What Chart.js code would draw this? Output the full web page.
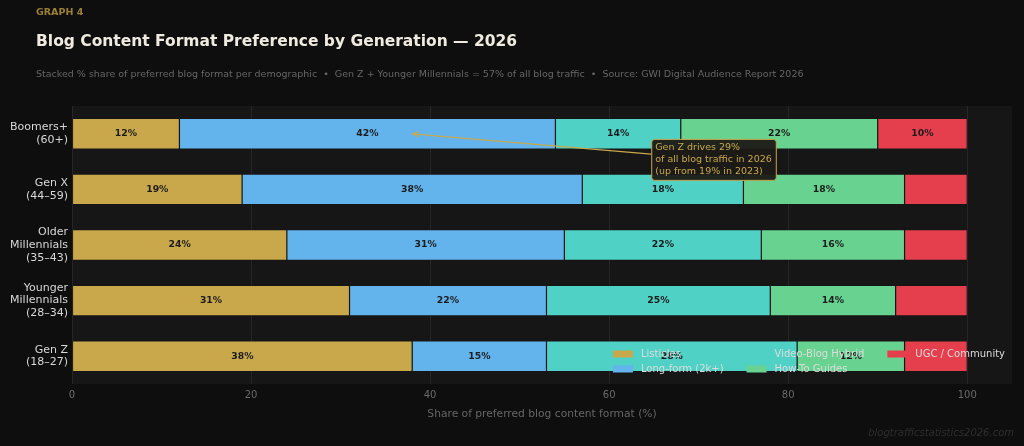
<!DOCTYPE html>
<html>
<head>
<meta charset="utf-8">
<script src="https://cdn.jsdelivr.net/npm/chart.js@4/dist/chart.umd.min.js"></script>
<style>
  html, body { margin: 0; padding: 0; background: #0e0e0e; }
  #wrap { width: 1024px; height: 446px; position: relative; }
</style>
</head>
<body>
<div id="wrap"><canvas id="chart" width="1024" height="446"></canvas></div>
<script>
/* ── Données ─────────────────────────────────────────────── */
const GENERATIONS = [
    ['Boomers+', '(60+)'],
    ['Gen X', '(44–59)'],
    ['Older', 'Millennials', '(35–43)'],
    ['Younger', 'Millennials', '(28–34)'],
    ['Gen Z', '(18–27)'],
];
const FORMATS = ['Listicles', 'Long-form (2k+)', 'Video-Blog Hybrid', 'How-To Guides', 'UGC / Community'];
const LISTICLES = [12, 19, 24, 31, 38];
const LONG_FORM = [42, 38, 31, 22, 15];
const VIDEO_BLOG = [14, 18, 22, 25, 28];
const HOW_TO = [22, 18, 16, 14, 12];
const UGC = [10, 7, 7, 8, 7];
const X_TICKS = [0, 20, 40, 60, 80, 100];

const NOTE_LINES = ['Gen Z drives 29%', 'of all blog traffic in 2026', '(up from 19% in 2023)'];
const NOTE_TARGET = { x: 38, y: 0 };
const NOTE_AT = { x: 64.7, y: 0.46 };

/* ── Charte ──────────────────────────────────────────────── */
const COLORS = ['#c9a84c', '#63b3ed', '#4fd1c5', '#68d391', '#e53e4d'];
const GOLD = '#c9a84c';
const FONT = '"DejaVu Sans", "Liberation Sans", sans-serif';
const LABEL_MIN = 10;

const SERIES = [LISTICLES, LONG_FORM, VIDEO_BLOG, HOW_TO, UGC];

/* ── Plugins maison ──────────────────────────────────────── */
const background = {
    id: 'background',
    beforeDraw(chart) {
        const { ctx, chartArea: a } = chart;
        ctx.save();
        ctx.fillStyle = '#0e0e0e';
        ctx.fillRect(0, 0, chart.width, chart.height);
        ctx.fillStyle = '#161616';
        ctx.fillRect(a.left, a.top, a.right - a.left, a.bottom - a.top);

        ctx.textBaseline = 'middle';
        ctx.textAlign = 'left';
        ctx.fillStyle = '#9c8035';
        ctx.font = `bold 9.5px ${FONT}`;
        ctx.fillText('GRAPH 4', 36, 13);
        ctx.fillStyle = '#f0ebe0';
        ctx.font = `bold 15.5px ${FONT}`;
        ctx.fillText('Blog Content Format Preference by Generation — 2026', 36, 42);
        ctx.fillStyle = '#666';
        ctx.font = `9.5px ${FONT}`;
        ctx.fillText('Stacked % share of preferred blog format per demographic  •  Gen Z + Younger Millennials = 57% of all blog traffic  •  Source: GWI Digital Audience Report 2026', 36, 75);

        ctx.textAlign = 'right';
        ctx.fillStyle = '#2e2e2e';
        ctx.font = `italic 10px ${FONT}`;
        ctx.fillText('blogtrafficstatistics2026.com', 1014, 433);
        ctx.restore();
    },
};

const segmentLabels = {
    id: 'segmentLabels',
    afterDatasetsDraw(chart) {
        const { ctx } = chart;
        ctx.save();
        ctx.font = `bold 9.3px ${FONT}`;
        ctx.fillStyle = '#1c1c1c';
        ctx.textAlign = 'center';
        ctx.textBaseline = 'middle';
        chart.data.datasets.forEach((ds, i) => {
            chart.getDatasetMeta(i).data.forEach((bar, j) => {
                const v = ds.data[j];
                if (v < LABEL_MIN) return;
                ctx.fillText(`${v}%`, (bar.x + bar.base) / 2, bar.y);
            });
        });
        ctx.restore();
    },
};

const note = {
    id: 'note',
    afterDatasetsDraw(chart) {
        const { ctx, scales: { x, y } } = chart;
        ctx.save();
        ctx.font = `9.5px ${FONT}`;
        const lh = 12;
        const w = Math.max(...NOTE_LINES.map(l => ctx.measureText(l).width)) + 8;
        const h = lh * NOTE_LINES.length + 5;
        const left = x.getPixelForValue(NOTE_AT.x);
        const top = y.getPixelForValue(NOTE_AT.y) - h / 2;

        // flèche
        const tx = x.getPixelForValue(NOTE_TARGET.x);
        const ty = y.getPixelForValue(NOTE_TARGET.y);
        const cx = left + w / 2, cy = top + h / 2;
        const t = (cx - left) / (cx - tx);
        const sx = left, sy = cy + (ty - cy) * t;
        ctx.strokeStyle = GOLD;
        ctx.lineWidth = 1.2;
        ctx.beginPath();
        ctx.moveTo(sx, sy);
        ctx.lineTo(tx, ty);
        const ang = Math.atan2(ty - sy, tx - sx);
        ctx.moveTo(tx - 7 * Math.cos(ang - 0.4), ty - 7 * Math.sin(ang - 0.4));
        ctx.lineTo(tx, ty);
        ctx.lineTo(tx - 7 * Math.cos(ang + 0.4), ty - 7 * Math.sin(ang + 0.4));
        ctx.stroke();

        // boîte
        ctx.fillStyle = 'rgba(28, 26, 22, 0.95)';
        ctx.lineWidth = 1;
        ctx.beginPath();
        ctx.roundRect(left + 0.5, top + 0.5, w, h, 3);
        ctx.fill();
        ctx.stroke();

        ctx.fillStyle = GOLD;
        ctx.textBaseline = 'middle';
        ctx.textAlign = 'left';
        NOTE_LINES.forEach((line, i) => ctx.fillText(line, left + 4, top + 3 + lh / 2 + i * lh));
        ctx.restore();
    },
};

const columnLegend = {
    id: 'columnLegend',
    afterDraw(chart) {
        const { ctx, chartArea: a } = chart;
        const rows = 2, patchW = 20, patchH = 7, gap = 8, colGap = 23, rowH = 15;
        ctx.save();
        ctx.font = `10px ${FONT}`;
        const items = chart.data.datasets.map(ds => ({ label: ds.label, color: ds.backgroundColor }));
        const cols = [];
        for (let i = 0; i < items.length; i += rows) cols.push(items.slice(i, i + rows));
        const widths = cols.map(c => patchW + gap + Math.max(...c.map(it => ctx.measureText(it.label).width)));
        const total = widths.reduce((s, v) => s + v, 0) + colGap * (cols.length - 1);
        let x0 = a.right - 7 - total;
        const y0 = a.bottom - 30;
        ctx.textBaseline = 'middle';
        ctx.textAlign = 'left';
        cols.forEach((c, ci) => {
            c.forEach((it, ri) => {
                const yy = y0 + ri * rowH;
                ctx.fillStyle = it.color;
                ctx.fillRect(x0, yy - patchH / 2, patchW, patchH);
                ctx.fillStyle = '#dcdcdc';
                ctx.fillText(it.label, x0 + patchW + gap, yy);
            });
            x0 += widths[ci] + colGap;
        });
        ctx.restore();
    },
};

/* ── Graphique ───────────────────────────────────────────── */
new Chart(document.getElementById('chart').getContext('2d'), {
    type: 'bar',
    data: {
        labels: GENERATIONS,
        datasets: FORMATS.map((name, i) => ({
            label: name,
            data: SERIES[i],
            backgroundColor: COLORS[i],
            borderColor: '#161616',
            borderWidth: 0.6,
            borderSkipped: false,
            barPercentage: 0.55,
            categoryPercentage: 1,
        })),
    },
    options: {
        indexAxis: 'y',
        responsive: false,
        animation: false,
        layout: { padding: { top: 106, right: 12, left: 0, bottom: 0 } },
        scales: {
            x: {
                stacked: true,
                min: 0,
                max: 105,
                afterFit: s => { s.height = 62; },
                afterBuildTicks: s => { s.ticks = X_TICKS.map(v => ({ value: v })); },
                ticks: { color: '#6a6a6a', font: { family: FONT, size: 10 }, padding: 5 },
                grid: { color: '#262626', drawTicks: false },
                border: { display: false },
                title: {
                    display: true,
                    text: 'Share of preferred blog content format (%)',
                    color: '#666',
                    font: { family: FONT, size: 10.7 },
                    padding: { bottom: 25 },
                },
            },
            y: {
                stacked: true,
                afterFit: s => { s.width = 72; },
                ticks: { color: '#d8d8d8', font: { family: FONT, size: 11, lineHeight: 1.15 }, padding: 4 },
                grid: { display: false, drawTicks: false },
                border: { display: false },
            },
        },
        plugins: {
            legend: { display: false },
            tooltip: { enabled: false },
        },
    },
    plugins: [background, segmentLabels, note, columnLegend],
});
</script>
</body>
</html>
